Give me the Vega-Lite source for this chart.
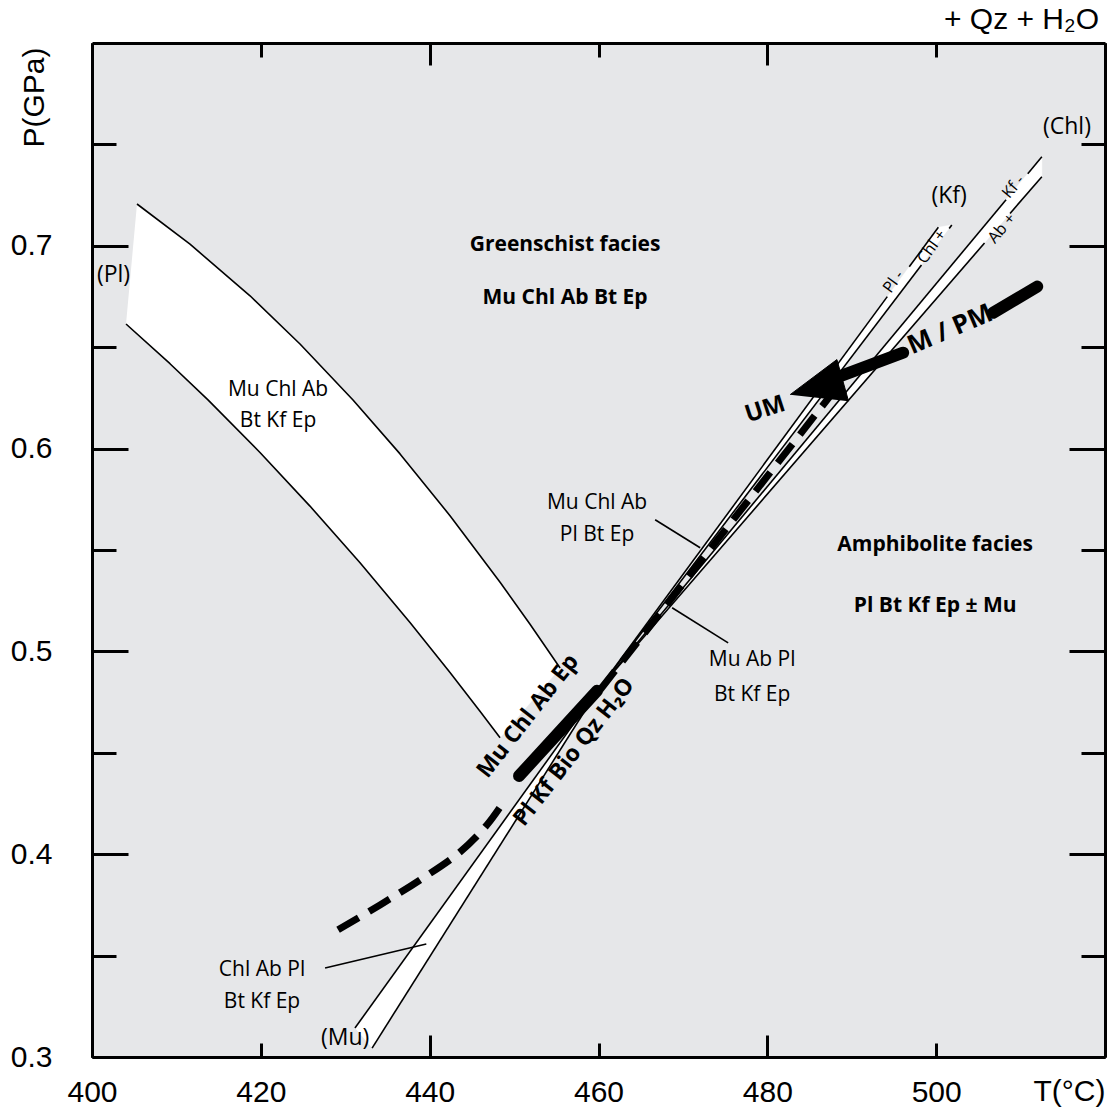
{
  "$schema": "https://vega.github.io/schema/vega-lite/v6.json",
  "autosize": {"type": "none"},
  "padding": {"left": 92, "top": 43, "right": 5, "bottom": 53},
  "width": 1013,
  "height": 1014,
  "title": {"text": "+ Qz + H₂O", "anchor": "end", "frame": "group", "font": "Liberation Sans", "fontSize": 30, "fontWeight": "normal", "color": "black", "offset": 7, "dx": -6},
  "config": {
    "view": {"fill": "#e6e7e9", "stroke": null},
    "axis": {"domainColor": "black", "domainWidth": 3, "tickColor": "black", "tickWidth": 3, "grid": false, "labelFont": "Liberation Sans", "labelFontSize": 30, "labelColor": "black", "titleFont": "Liberation Sans", "titleFontSize": 30, "titleFontWeight": "normal", "titleColor": "black", "labelOverlap": false, "labelFlush": false}
  },
  "datasets": {
    "bands": [
      {"band": "Pl", "i": 1, "T": 405.33, "P": 0.72061},
      {"band": "Pl", "i": 2, "T": 411.61, "P": 0.70079},
      {"band": "Pl", "i": 3, "T": 418.72, "P": 0.67535},
      {"band": "Pl", "i": 4, "T": 424.64, "P": 0.65158},
      {"band": "Pl", "i": 5, "T": 430.92, "P": 0.62396},
      {"band": "Pl", "i": 6, "T": 436.49, "P": 0.59739},
      {"band": "Pl", "i": 7, "T": 442.41, "P": 0.56691},
      {"band": "Pl", "i": 8, "T": 448.34, "P": 0.53412},
      {"band": "Pl", "i": 9, "T": 451.89, "P": 0.51341},
      {"band": "Pl", "i": 10, "T": 455.45, "P": 0.49182},
      {"band": "Pl", "i": 11, "T": 448.34, "P": 0.4574},
      {"band": "Pl", "i": 12, "T": 445.96, "P": 0.47046},
      {"band": "Pl", "i": 13, "T": 442.41, "P": 0.4896},
      {"band": "Pl", "i": 14, "T": 437.67, "P": 0.51425},
      {"band": "Pl", "i": 15, "T": 431.75, "P": 0.54374},
      {"band": "Pl", "i": 16, "T": 425.82, "P": 0.57165},
      {"band": "Pl", "i": 17, "T": 419.9, "P": 0.59808},
      {"band": "Pl", "i": 18, "T": 413.74, "P": 0.62401},
      {"band": "Pl", "i": 19, "T": 409.24, "P": 0.64186},
      {"band": "Pl", "i": 20, "T": 404.03, "P": 0.66144},
      {"band": "Mu", "i": 1, "T": 431.15, "P": 0.3143},
      {"band": "Mu", "i": 2, "T": 459.94, "P": 0.48097},
      {"band": "Mu", "i": 3, "T": 433.18, "P": 0.3044},
      {"band": "Kf", "i": 1, "T": 459.94, "P": 0.48097},
      {"band": "Kf", "i": 2, "T": 500.26, "P": 0.70912},
      {"band": "Kf", "i": 3, "T": 501.85, "P": 0.71026},
      {"band": "Chl", "i": 1, "T": 459.94, "P": 0.48097},
      {"band": "Chl", "i": 2, "T": 512.52, "P": 0.74393},
      {"band": "Chl", "i": 3, "T": 512.52, "P": 0.73407}
    ],
    "edges": [
      {"edge": "plU", "i": 1, "T": 405.33, "P": 0.72061},
      {"edge": "plU", "i": 2, "T": 411.61, "P": 0.70079},
      {"edge": "plU", "i": 3, "T": 418.72, "P": 0.67535},
      {"edge": "plU", "i": 4, "T": 424.64, "P": 0.65158},
      {"edge": "plU", "i": 5, "T": 430.92, "P": 0.62396},
      {"edge": "plU", "i": 6, "T": 436.49, "P": 0.59739},
      {"edge": "plU", "i": 7, "T": 442.41, "P": 0.56691},
      {"edge": "plU", "i": 8, "T": 448.34, "P": 0.53412},
      {"edge": "plU", "i": 9, "T": 451.89, "P": 0.51341},
      {"edge": "plU", "i": 10, "T": 455.45, "P": 0.49182},
      {"edge": "plL", "i": 1, "T": 404.03, "P": 0.66144},
      {"edge": "plL", "i": 2, "T": 409.24, "P": 0.64186},
      {"edge": "plL", "i": 3, "T": 413.74, "P": 0.62401},
      {"edge": "plL", "i": 4, "T": 419.9, "P": 0.59808},
      {"edge": "plL", "i": 5, "T": 425.82, "P": 0.57165},
      {"edge": "plL", "i": 6, "T": 431.75, "P": 0.54374},
      {"edge": "plL", "i": 7, "T": 437.67, "P": 0.51425},
      {"edge": "plL", "i": 8, "T": 442.41, "P": 0.4896},
      {"edge": "plL", "i": 9, "T": 445.96, "P": 0.47046},
      {"edge": "plL", "i": 10, "T": 448.34, "P": 0.4574},
      {"edge": "muL", "i": 1, "T": 431.15, "P": 0.3143},
      {"edge": "muL", "i": 2, "T": 459.94, "P": 0.48097},
      {"edge": "muR", "i": 1, "T": 433.18, "P": 0.3044},
      {"edge": "muR", "i": 2, "T": 459.94, "P": 0.48097},
      {"edge": "kfL1", "i": 1, "T": 459.94, "P": 0.48097},
      {"edge": "kfL1", "i": 2, "T": 494.21, "P": 0.67495},
      {"edge": "kfL2", "i": 1, "T": 496.81, "P": 0.68964},
      {"edge": "kfL2", "i": 2, "T": 500.26, "P": 0.70912},
      {"edge": "kfR1", "i": 1, "T": 459.94, "P": 0.48097},
      {"edge": "kfR1", "i": 2, "T": 498.26, "P": 0.69053},
      {"edge": "kfR2", "i": 1, "T": 501.54, "P": 0.70858},
      {"edge": "kfR2", "i": 2, "T": 501.85, "P": 0.71026},
      {"edge": "chlL1", "i": 1, "T": 459.94, "P": 0.48097},
      {"edge": "chlL1", "i": 2, "T": 508.28, "P": 0.72273},
      {"edge": "chlL2", "i": 1, "T": 510.85, "P": 0.73555},
      {"edge": "chlL2", "i": 2, "T": 512.52, "P": 0.74393},
      {"edge": "chlR1", "i": 1, "T": 459.94, "P": 0.48097},
      {"edge": "chlR1", "i": 2, "T": 505.73, "P": 0.70138},
      {"edge": "chlR2", "i": 1, "T": 508.75, "P": 0.71593},
      {"edge": "chlR2", "i": 2, "T": 512.52, "P": 0.73407},
      {"edge": "lead1", "i": 1, "T": 466.71, "P": 0.5649},
      {"edge": "lead1", "i": 2, "T": 472.04, "P": 0.5511},
      {"edge": "lead2", "i": 1, "T": 475.36, "P": 0.5042},
      {"edge": "lead2", "i": 2, "T": 468.72, "P": 0.5215},
      {"edge": "lead3", "i": 1, "T": 427.61, "P": 0.3439},
      {"edge": "lead3", "i": 2, "T": 439.6, "P": 0.3557}
    ],
    "thick": [
      {"seg": "a", "i": 1, "T": 511.97, "P": 0.6799},
      {"seg": "a", "i": 2, "T": 506.75, "P": 0.667},
      {"seg": "b", "i": 1, "T": 496.09, "P": 0.6473},
      {"seg": "b", "i": 2, "T": 487.3, "P": 0.6337},
      {"seg": "c", "i": 1, "T": 450.59, "P": 0.4386},
      {"seg": "c", "i": 2, "T": 459.83, "P": 0.4806}
    ],
    "dash": [
      {"seg": "a", "i": 1, "T": 429.15, "P": 0.3627},
      {"seg": "a", "i": 2, "T": 434.12, "P": 0.375},
      {"seg": "a", "i": 3, "T": 438.86, "P": 0.3873},
      {"seg": "a", "i": 4, "T": 443.6, "P": 0.4011},
      {"seg": "a", "i": 5, "T": 446.8, "P": 0.4145},
      {"seg": "a", "i": 6, "T": 448.93, "P": 0.4268},
      {"seg": "b", "i": 1, "T": 460.2, "P": 0.4811},
      {"seg": "b", "i": 2, "T": 488.03, "P": 0.6291}
    ],
    "head": [
      {"i": 1, "T": 482.7, "P": 0.6266},
      {"i": 2, "T": 488.24, "P": 0.6439},
      {"i": 3, "T": 489.62, "P": 0.6234}
    ],
    "labels": [
      {"text": "(Pl)", "kind": "paren", "T": 402.55, "P": 0.6858},
      {"text": "(Kf)", "kind": "paren", "T": 501.54, "P": 0.7248},
      {"text": "(Chl)", "kind": "paren", "T": 515.49, "P": 0.7586},
      {"text": "(Mu)", "kind": "paren", "T": 429.98, "P": 0.3094},
      {"text": "Mu Chl Ab", "kind": "plain", "T": 422.04, "P": 0.6291},
      {"text": "Bt Kf Ep", "kind": "plain", "T": 422.04, "P": 0.6134},
      {"text": "Mu Chl Ab", "kind": "plain", "T": 459.83, "P": 0.5733},
      {"text": "Pl Bt Ep", "kind": "plain", "T": 459.83, "P": 0.5575},
      {"text": "Mu Ab Pl", "kind": "plain", "T": 478.2, "P": 0.4959},
      {"text": "Bt Kf Ep", "kind": "plain", "T": 478.2, "P": 0.4786},
      {"text": "Chl Ab Pl", "kind": "plain", "T": 420.14, "P": 0.3429},
      {"text": "Bt Kf Ep", "kind": "plain", "T": 420.14, "P": 0.3271},
      {"text": "Greenschist facies", "kind": "bold", "T": 456.04, "P": 0.7006},
      {"text": "Mu Chl Ab Bt Ep", "kind": "bold", "T": 456.04, "P": 0.6744},
      {"text": "Amphibolite facies", "kind": "bold", "T": 499.88, "P": 0.5526},
      {"text": "Pl Bt Kf Ep ± Mu", "kind": "bold", "T": 499.88, "P": 0.5225},
      {"text": "Mu Chl Ab Ep", "kind": "diag", "T": 451.65, "P": 0.4681},
      {"text": "Pl Kf Bio Qz H₂O", "kind": "diag", "T": 457.1, "P": 0.4504},
      {"text": "M / PM", "kind": "mpm", "T": 501.66, "P": 0.6587},
      {"text": "UM", "kind": "um", "T": 479.74, "P": 0.6192},
      {"text": "Pl -", "kind": "tinyKf", "T": 494.93, "P": 0.6823},
      {"text": "Chl +", "kind": "tinyKf", "T": 499.48, "P": 0.69956},
      {"text": "Kf -", "kind": "tinyChl", "T": 509.14, "P": 0.72914},
      {"text": "Ab +", "kind": "tinyChl", "T": 507.77, "P": 0.70863}
    ]
  },
  "resolve": {"axis": {"x": "independent", "y": "independent"}},
  "layer": [
    {
      "data": {"name": "bands"},
      "mark": {"type": "line", "fill": "white", "stroke": "white", "strokeWidth": 0.5, "interpolate": "linear"},
      "encoding": {
        "x": {"field": "T", "type": "quantitative", "scale": {"domain": [400, 520], "nice": false, "zero": false},
          "axis": {"orient": "bottom", "values": [400, 420, 440, 460, 480, 500], "tickSize": -14, "labelPadding": 34, "labelBaseline": "top", "format": "d", "title": "T(°C)", "titleAnchor": "end", "titleAlign": "right", "titleBaseline": "alphabetic", "titleX": 1013, "titleY": 43}},
        "y": {"field": "P", "type": "quantitative", "scale": {"domain": [0.3, 0.8], "nice": false, "zero": false},
          "axis": {"orient": "left", "values": [0.3, 0.4, 0.5, 0.6, 0.7], "tickSize": -36, "labelPadding": 76, "labelAlign": "right", "labelBaseline": "middle", "format": ".1f", "title": "P(GPa)", "titleAngle": -90, "titleAlign": "right", "titleBaseline": "alphabetic", "titleX": -49, "titleY": 4}},
        "detail": {"field": "band"},
        "order": {"field": "i"}
      }
    },
    {
      "data": {"name": "edges"},
      "mark": {"type": "line", "color": "black", "strokeWidth": 1.6, "interpolate": "linear", "strokeJoin": "round"},
      "encoding": {
        "x": {"field": "T", "type": "quantitative", "axis": {"orient": "bottom", "values": [400, 440, 480, 520], "tickSize": -22, "labels": false, "domain": false, "title": null}},
        "y": {"field": "P", "type": "quantitative", "axis": {"orient": "left", "values": [0.35, 0.45, 0.55, 0.65, 0.75], "tickSize": -24, "labels": false, "domain": false, "title": null}},
        "detail": {"field": "edge"},
        "order": {"field": "i"}
      }
    },
    {
      "data": {"name": "thick"},
      "mark": {"type": "line", "color": "black", "strokeWidth": 12, "strokeCap": "round"},
      "encoding": {
        "x": {"field": "T", "type": "quantitative", "axis": {"orient": "top", "values": [400, 420, 440, 460, 480, 500, 520], "tickSize": -14, "labels": false, "title": null}},
        "y": {"field": "P", "type": "quantitative", "axis": {"orient": "right", "values": [0.3, 0.4, 0.5, 0.6, 0.7], "tickSize": -36, "labels": false, "title": null}},
        "detail": {"field": "seg"},
        "order": {"field": "i"}
      }
    },
    {
      "data": {"name": "dash"},
      "mark": {"type": "line", "color": "black", "strokeWidth": 7, "strokeDash": [24, 12], "interpolate": "catmull-rom"},
      "encoding": {
        "x": {"field": "T", "type": "quantitative", "axis": {"orient": "top", "values": [400, 440, 480, 520], "tickSize": -22, "labels": false, "domain": false, "title": null}},
        "y": {"field": "P", "type": "quantitative", "axis": {"orient": "right", "values": [0.35, 0.45, 0.55, 0.65, 0.75], "tickSize": -24, "labels": false, "domain": false, "title": null}},
        "detail": {"field": "seg"},
        "order": {"field": "i"}
      }
    },
    {
      "data": {"name": "head"},
      "mark": {"type": "line", "fill": "black", "stroke": "black", "strokeWidth": 1},
      "encoding": {
        "x": {"field": "T", "type": "quantitative", "axis": null},
        "y": {"field": "P", "type": "quantitative", "axis": null},
        "order": {"field": "i"}
      }
    },
    {
      "data": {"name": "labels"},
      "transform": [{"filter": "datum.kind === 'paren'"}],
      "mark": {"type": "text", "font": "Open Sans", "fontSize": 23, "color": "black", "align": "center", "baseline": "middle"},
      "encoding": {
        "x": {"field": "T", "type": "quantitative", "axis": null},
        "y": {"field": "P", "type": "quantitative", "axis": null},
        "text": {"field": "text"}
      }
    },
    {
      "data": {"name": "labels"},
      "transform": [{"filter": "datum.kind === 'plain'"}],
      "mark": {"type": "text", "font": "Open Sans", "fontSize": 21, "color": "black", "align": "center", "baseline": "middle"},
      "encoding": {
        "x": {"field": "T", "type": "quantitative", "axis": null},
        "y": {"field": "P", "type": "quantitative", "axis": null},
        "text": {"field": "text"}
      }
    },
    {
      "data": {"name": "labels"},
      "transform": [{"filter": "datum.kind === 'bold'"}],
      "mark": {"type": "text", "font": "Open Sans", "fontSize": 21, "fontWeight": "bold", "color": "black", "align": "center", "baseline": "middle"},
      "encoding": {
        "x": {"field": "T", "type": "quantitative", "axis": null},
        "y": {"field": "P", "type": "quantitative", "axis": null},
        "text": {"field": "text"}
      }
    },
    {
      "data": {"name": "labels"},
      "transform": [{"filter": "datum.kind === 'diag'"}],
      "mark": {"type": "text", "font": "Open Sans", "fontSize": 23, "fontWeight": "bold", "color": "black", "align": "center", "baseline": "middle", "angle": -52},
      "encoding": {
        "x": {"field": "T", "type": "quantitative", "axis": null},
        "y": {"field": "P", "type": "quantitative", "axis": null},
        "text": {"field": "text"}
      }
    },
    {
      "data": {"name": "labels"},
      "transform": [{"filter": "datum.kind === 'mpm'"}],
      "mark": {"type": "text", "font": "Open Sans", "fontSize": 26, "fontWeight": "bold", "color": "black", "align": "center", "baseline": "middle", "angle": -23},
      "encoding": {
        "x": {"field": "T", "type": "quantitative", "axis": null},
        "y": {"field": "P", "type": "quantitative", "axis": null},
        "text": {"field": "text"}
      }
    },
    {
      "data": {"name": "labels"},
      "transform": [{"filter": "datum.kind === 'um'"}],
      "mark": {"type": "text", "font": "Open Sans", "fontSize": 24, "fontWeight": "bold", "color": "black", "align": "center", "baseline": "middle", "angle": -18},
      "encoding": {
        "x": {"field": "T", "type": "quantitative", "axis": null},
        "y": {"field": "P", "type": "quantitative", "axis": null},
        "text": {"field": "text"}
      }
    },
    {
      "data": {"name": "labels"},
      "transform": [{"filter": "datum.kind === 'tinyKf'"}],
      "mark": {"type": "text", "font": "Open Sans", "fontSize": 16, "color": "black", "align": "center", "baseline": "middle", "angle": -54},
      "encoding": {
        "x": {"field": "T", "type": "quantitative", "axis": null},
        "y": {"field": "P", "type": "quantitative", "axis": null},
        "text": {"field": "text"}
      }
    },
    {
      "data": {"name": "labels"},
      "transform": [{"filter": "datum.kind === 'tinyChl'"}],
      "mark": {"type": "text", "font": "Open Sans", "fontSize": 16, "color": "black", "align": "center", "baseline": "middle", "angle": -50},
      "encoding": {
        "x": {"field": "T", "type": "quantitative", "axis": null},
        "y": {"field": "P", "type": "quantitative", "axis": null},
        "text": {"field": "text"}
      }
    }
  ]
}
